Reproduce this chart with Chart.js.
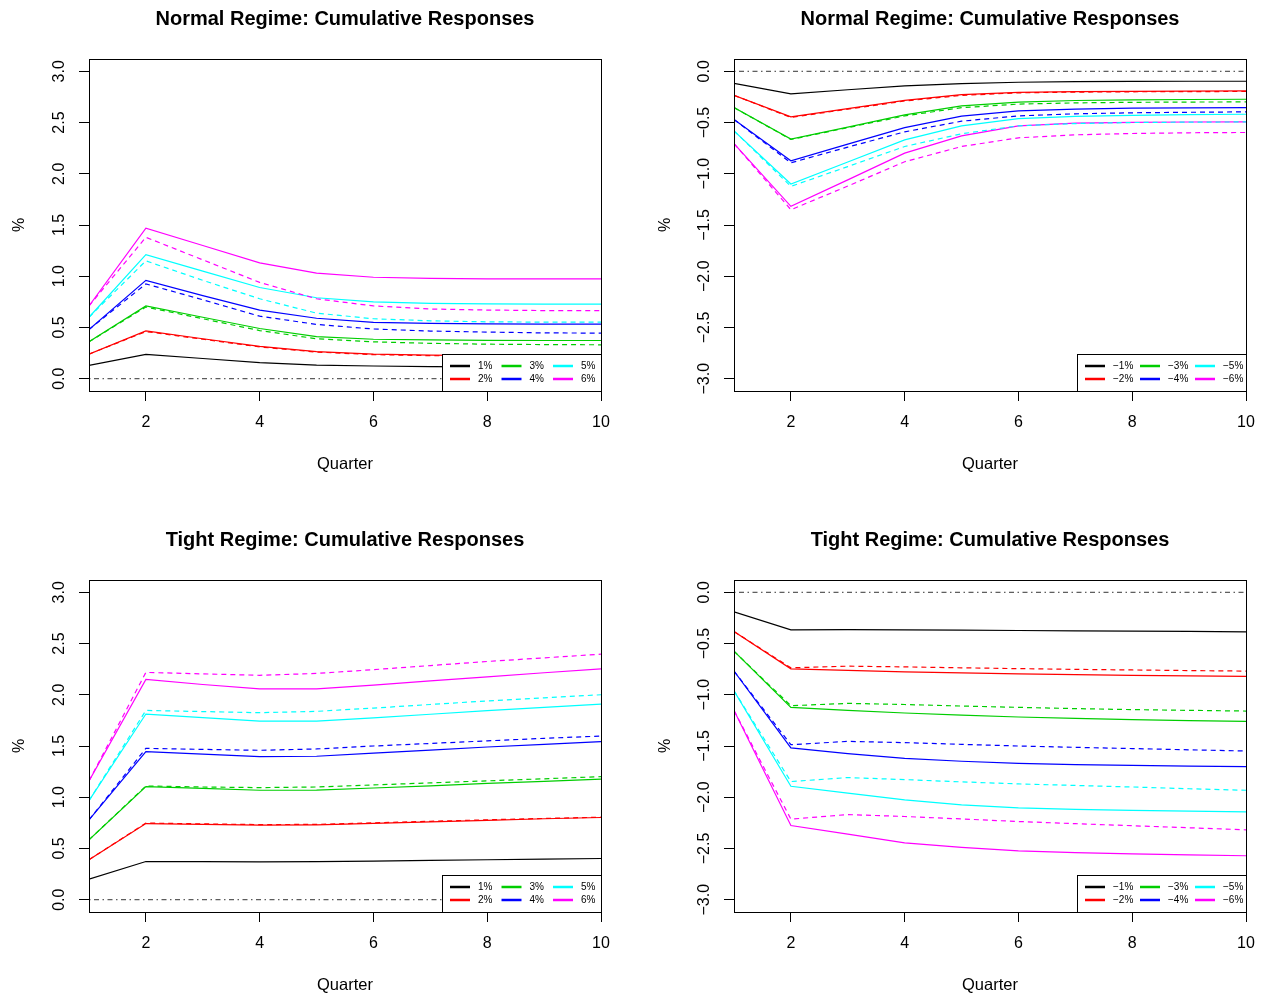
<!DOCTYPE html>
<html>
<head>
<meta charset="utf-8">
<script src="https://cdn.jsdelivr.net/npm/chart.js@4.4.1/dist/chart.umd.min.js"></script>
<style>
  html, body { margin: 0; padding: 0; background: #fff; }
  body { width: 1267px; height: 996px; position: relative; overflow: hidden; }
  canvas { position: absolute; }
</style>
</head>
<body>
<canvas id="c1" width="634" height="498" style="left:0;top:0"></canvas>
<canvas id="c2" width="633" height="498" style="left:634px;top:0"></canvas>
<canvas id="c3" width="634" height="498" style="left:0;top:498px"></canvas>
<canvas id="c4" width="633" height="498" style="left:634px;top:498px"></canvas>
<script>
const FONT = "'Liberation Sans', Arial, Helvetica, sans-serif";

const quarters = [1, 2, 3, 4, 5, 6, 7, 8, 9, 10];
const xTickValues = [2, 4, 6, 8, 10];
const yTicksPos = [0, 0.5, 1, 1.5, 2, 2.5, 3];
const yTicksNeg = [0, -0.5, -1, -1.5, -2, -2.5, -3];
const shockLabelsPos = ["1%", "2%", "3%", "4%", "5%", "6%"];
const shockLabelsNeg = ["\u22121%", "\u22122%", "\u22123%", "\u22124%", "\u22125%", "\u22126%"];
const shockColors = ["#000000", "#ff0000", "#00cd00", "#0000ff", "#00ffff", "#ff00ff"];

// rows: 1%..6% shocks (black, red, green, blue, cyan, magenta)
const normalPosSolid = [
  [0.13, 0.237, 0.197, 0.156, 0.133, 0.124, 0.118, 0.115, 0.113, 0.112],
  [0.24, 0.467, 0.39, 0.315, 0.265, 0.24, 0.23, 0.225, 0.222, 0.22],
  [0.36, 0.71, 0.6, 0.49, 0.41, 0.385, 0.378, 0.375, 0.373, 0.373],
  [0.48, 0.96, 0.81, 0.67, 0.59, 0.55, 0.54, 0.535, 0.533, 0.533],
  [0.6, 1.21, 1.05, 0.89, 0.79, 0.75, 0.735, 0.73, 0.727, 0.727],
  [0.71, 1.47, 1.3, 1.13, 1.03, 0.99, 0.98, 0.975, 0.975, 0.975],
];
const normalPosDashed = [
  null,
  [0.24, 0.46, 0.385, 0.31, 0.26, 0.235, 0.225, 0.22, 0.217, 0.215],
  [0.36, 0.7, 0.585, 0.47, 0.39, 0.36, 0.345, 0.337, 0.333, 0.331],
  [0.48, 0.925, 0.77, 0.61, 0.53, 0.485, 0.465, 0.455, 0.447, 0.445],
  [0.6, 1.15, 0.96, 0.78, 0.64, 0.585, 0.565, 0.555, 0.552, 0.552],
  [0.71, 1.38, 1.16, 0.94, 0.78, 0.71, 0.68, 0.67, 0.665, 0.665],
];

const normalNegSolid = [
  [-0.117, -0.221, -0.18, -0.143, -0.12, -0.107, -0.1, -0.098, -0.097, -0.097],
  [-0.234, -0.445, -0.364, -0.283, -0.227, -0.205, -0.198, -0.195, -0.193, -0.192],
  [-0.354, -0.662, -0.545, -0.425, -0.338, -0.3, -0.285, -0.278, -0.275, -0.273],
  [-0.471, -0.873, -0.71, -0.549, -0.438, -0.386, -0.37, -0.36, -0.356, -0.354],
  [-0.581, -1.1, -0.885, -0.669, -0.532, -0.461, -0.44, -0.43, -0.423, -0.419],
  [-0.705, -1.318, -1.06, -0.799, -0.63, -0.532, -0.506, -0.498, -0.495, -0.494],
];
const normalNegDashed = [
  null,
  [-0.234, -0.45, -0.37, -0.29, -0.235, -0.21, -0.203, -0.2, -0.198, -0.197],
  [-0.354, -0.665, -0.55, -0.435, -0.355, -0.32, -0.308, -0.303, -0.3, -0.299],
  [-0.471, -0.893, -0.74, -0.591, -0.487, -0.435, -0.415, -0.405, -0.4, -0.396],
  [-0.581, -1.123, -0.93, -0.734, -0.61, -0.532, -0.51, -0.5, -0.496, -0.494],
  [-0.705, -1.351, -1.12, -0.883, -0.734, -0.649, -0.62, -0.607, -0.6, -0.597],
];

const tightPosSolid = [
  [0.2, 0.373, 0.372, 0.37, 0.372, 0.377, 0.383, 0.39, 0.396, 0.402],
  [0.39, 0.743, 0.735, 0.727, 0.73, 0.745, 0.76, 0.775, 0.79, 0.802],
  [0.584, 1.104, 1.086, 1.068, 1.07, 1.09, 1.11, 1.135, 1.155, 1.176],
  [0.779, 1.445, 1.42, 1.396, 1.4, 1.43, 1.46, 1.49, 1.516, 1.542],
  [0.967, 1.812, 1.777, 1.743, 1.743, 1.775, 1.81, 1.845, 1.877, 1.909],
  [1.159, 2.149, 2.1, 2.058, 2.058, 2.095, 2.135, 2.175, 2.215, 2.253],
];
const tightPosDashed = [
  null,
  [0.39, 0.748, 0.74, 0.733, 0.735, 0.75, 0.765, 0.78, 0.793, 0.805],
  [0.584, 1.11, 1.1, 1.094, 1.1, 1.12, 1.14, 1.16, 1.18, 1.201],
  [0.779, 1.477, 1.467, 1.458, 1.471, 1.5, 1.525, 1.55, 1.575, 1.597],
  [0.967, 1.847, 1.836, 1.825, 1.838, 1.87, 1.905, 1.94, 1.97, 2.0],
  [1.159, 2.218, 2.204, 2.19, 2.208, 2.245, 2.285, 2.325, 2.36, 2.396],
];

const tightNegSolid = [
  [-0.191, -0.367, -0.365, -0.367, -0.37, -0.373, -0.376, -0.379, -0.382, -0.386],
  [-0.383, -0.747, -0.762, -0.776, -0.787, -0.797, -0.804, -0.81, -0.816, -0.821],
  [-0.575, -1.123, -1.152, -1.178, -1.199, -1.217, -1.23, -1.242, -1.252, -1.26],
  [-0.769, -1.519, -1.575, -1.62, -1.649, -1.669, -1.682, -1.69, -1.696, -1.701],
  [-0.961, -1.893, -1.96, -2.026, -2.075, -2.104, -2.118, -2.128, -2.136, -2.143],
  [-1.153, -2.276, -2.36, -2.445, -2.49, -2.523, -2.54, -2.553, -2.563, -2.571],
];
const tightNegDashed = [
  null,
  [-0.383, -0.737, -0.721, -0.728, -0.737, -0.745, -0.752, -0.758, -0.764, -0.769],
  [-0.575, -1.107, -1.084, -1.095, -1.11, -1.123, -1.135, -1.145, -1.152, -1.159],
  [-0.769, -1.487, -1.455, -1.467, -1.484, -1.5, -1.513, -1.525, -1.537, -1.549],
  [-0.961, -1.847, -1.808, -1.828, -1.85, -1.87, -1.885, -1.9, -1.917, -1.932],
  [-1.153, -2.214, -2.169, -2.188, -2.212, -2.237, -2.258, -2.278, -2.298, -2.318],
];

const zeroLine = [0, 0];
const zeroLineX = [1, 10];

Chart.defaults.font.family = FONT;
Chart.defaults.color = "#000";

function $(id) {
  return document.getElementById(id);
}

function fmtTick(v) {
  return v.toFixed(1).replace("-", "\u2212");
}

// plot frame, as R's box()
const framePlugin = {
  id: "frame",
  afterDraw(chart) {
    const { ctx, chartArea: a } = chart;
    ctx.save();
    ctx.strokeStyle = "#000";
    ctx.lineWidth = 1;
    ctx.strokeRect(a.left + 0.5, a.top + 0.5, a.right - a.left, a.bottom - a.top);
    ctx.restore();
  },
};

// y tick labels drawn parallel to the axis (R las=0)
const yLabelPlugin = {
  id: "yLabels",
  afterDraw(chart) {
    const { ctx } = chart;
    const y = chart.scales.y;
    ctx.save();
    ctx.font = "16px " + FONT;
    ctx.fillStyle = "#000";
    ctx.textAlign = "center";
    ctx.textBaseline = "middle";
    y.ticks.forEach((t) => {
      const py = y.getPixelForValue(t.value);
      ctx.save();
      ctx.translate(y.right - 29.5, py);
      ctx.rotate(-Math.PI / 2);
      ctx.fillText(fmtTick(t.value), 0, 0);
      ctx.restore();
    });
    ctx.restore();
  },
};

const legendPlugin = {
  id: "shockLegend",
  afterDatasetsDraw(chart, args, opts) {
    const { ctx, chartArea: a } = chart;
    const labels = opts.labels;
    ctx.save();
    ctx.font = "10px " + FONT;
    const w = opts.width;
    const h = 37;
    const x0 = Math.round(a.right - w);
    const y0 = a.bottom - h;
    ctx.fillStyle = "#fff";
    ctx.fillRect(x0, y0, a.right - x0, h);
    ctx.strokeStyle = "#000";
    ctx.lineWidth = 1;
    ctx.strokeRect(x0 + 0.5, y0 + 0.5, a.right - x0, h);
    labels.forEach((t, i) => {
      const col = Math.floor(i / 2);
      const row = i % 2;
      const lx = x0 + 8 + col * opts.colWidth;
      const ly = y0 + 12 + row * 13;
      ctx.strokeStyle = shockColors[i];
      ctx.lineWidth = 2.5;
      ctx.beginPath();
      ctx.moveTo(lx, ly);
      ctx.lineTo(lx + 20, ly);
      ctx.stroke();
      ctx.fillStyle = "#000";
      ctx.textAlign = "left";
      ctx.textBaseline = "middle";
      ctx.fillText(t, lx + 28, ly);
    });
    ctx.restore();
  },
};

function buildDatasets(solid, dashed) {
  const ds = [];
  const toPts = (vals) => quarters.map((q, i) => ({ x: q, y: vals[i] }));
  ds.push({
    data: zeroLineX.map((q, i) => ({ x: q, y: zeroLine[i] })),
    borderColor: "#333",
    borderWidth: 1,
    borderDash: [1.5, 3.5, 5, 3.5],
  });
  solid.forEach((row, i) => {
    ds.push({ data: toPts(row), borderColor: shockColors[i], borderWidth: 1.2 });
  });
  dashed.forEach((row, i) => {
    if (!row) return;
    ds.push({ data: toPts(row), borderColor: shockColors[i], borderWidth: 1.2, borderDash: [5, 4] });
  });
  const n = ds.length;
  ds.forEach((d, i) => {
    d.pointRadius = 0;
    d.tension = 0;
    d.fill = false;
    d.order = n - i;
  });
  return ds;
}

function makePanel(id, cfg) {
  return new Chart($(id), {
    type: "line",
    data: { datasets: buildDatasets(cfg.solid, cfg.dashed) },
    options: {
      responsive: false,
      animation: false,
      events: [],
      layout: { padding: { left: 0, right: cfg.padRight, top: 0, bottom: 0 }, autoPadding: false },
      plugins: {
        legend: { display: false },
        tooltip: { enabled: false },
        title: {
          display: true,
          text: cfg.title,
          fullSize: false,
          color: "#000",
          font: { family: FONT, size: 20, weight: "bold" },
          padding: { top: cfg.titleTop, bottom: 28 },
        },
        shockLegend: { labels: cfg.labels, width: cfg.legendW, colWidth: cfg.legendCol },
      },
      scales: {
        x: {
          type: "linear",
          min: 1,
          max: 10,
          afterBuildTicks: (s) => {
            s.ticks = xTickValues.map((v) => ({ value: v }));
          },
          afterFit: (s) => {
            s.height = cfg.xHeight;
          },
          grid: { drawOnChartArea: false, tickLength: 10, color: "#000", lineWidth: 1 },
          border: { display: false },
          ticks: { color: "#000", font: { size: 16 }, padding: 12, maxRotation: 0 },
          title: {
            display: true,
            text: "Quarter",
            color: "#000",
            font: { size: 16.5 },
            padding: { top: 0, bottom: cfg.quarterPad },
          },
        },
        y: {
          type: "linear",
          min: cfg.yMin,
          max: cfg.yMax,
          afterBuildTicks: (s) => {
            s.ticks = cfg.yTicks.map((v) => ({ value: v }));
          },
          afterFit: (s) => {
            s.width = cfg.yWidth;
          },
          grid: { drawOnChartArea: false, tickLength: 10, color: "#000", lineWidth: 1 },
          border: { display: false },
          ticks: { display: false },
          title: {
            display: true,
            text: "%",
            color: "#000",
            font: { size: 16 },
            padding: { top: cfg.pctPad, bottom: 0 },
          },
        },
      },
    },
    plugins: [legendPlugin, framePlugin, yLabelPlugin],
  });
}

makePanel("c1", {
  title: "Normal Regime: Cumulative Responses",
  solid: normalPosSolid, dashed: normalPosDashed, labels: shockLabelsPos,
  yMin: -0.12, yMax: 3.12, yTicks: yTicksPos, legendW: 159, legendCol: 51.5,
  yWidth: 89, padRight: 33, pctPad: 10, titleTop: 7, xHeight: 107, quarterPad: 23.6,
});
makePanel("c2", {
  title: "Normal Regime: Cumulative Responses",
  solid: normalNegSolid, dashed: normalNegDashed, labels: shockLabelsNeg,
  yMin: -3.12, yMax: 0.12, yTicks: yTicksNeg, legendW: 169.5, legendCol: 55,
  yWidth: 100, padRight: 21, pctPad: 22, titleTop: 7, xHeight: 107, quarterPad: 23.6,
});
makePanel("c3", {
  title: "Tight Regime: Cumulative Responses",
  solid: tightPosSolid, dashed: tightPosDashed, labels: shockLabelsPos,
  yMin: -0.12, yMax: 3.12, yTicks: yTicksPos, legendW: 159, legendCol: 51.5,
  yWidth: 89, padRight: 33, pctPad: 10, titleTop: 30, xHeight: 84, quarterPad: 0.6,
});
makePanel("c4", {
  title: "Tight Regime: Cumulative Responses",
  solid: tightNegSolid, dashed: tightNegDashed, labels: shockLabelsNeg,
  yMin: -3.12, yMax: 0.12, yTicks: yTicksNeg, legendW: 169.5, legendCol: 55,
  yWidth: 100, padRight: 21, pctPad: 22, titleTop: 30, xHeight: 84, quarterPad: 0.6,
});
</script>
</body>
</html>
